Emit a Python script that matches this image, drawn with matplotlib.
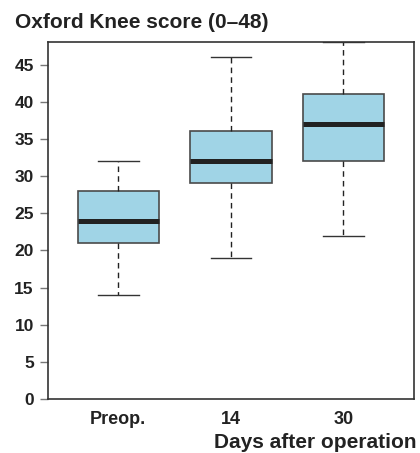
import matplotlib.pyplot as plt

plt.rcParams['font.family'] = ['Liberation Sans', 'DejaVu Sans']

groups = ['Preop.', '14', '30']
medians = [24, 32, 37]
q1 = [21, 29, 32]
q3 = [28, 36, 41]
whisker_low = [14, 19, 22]
whisker_high = [32, 46, 48]

stats = []
for i in range(len(groups)):
    stats.append(dict(med=medians[i], q1=q1[i], q3=q3[i],
                      whislo=whisker_low[i], whishi=whisker_high[i],
                      fliers=[], label=groups[i]))

fig = plt.figure(figsize=(4.2, 4.53), dpi=100)
ax = fig.add_axes([47.7/420, 1 - 399/453, 366.3/420, 356.7/453])

ax.bxp(stats, positions=[1, 2, 3], widths=0.725, patch_artist=True,
       boxprops=dict(facecolor='#a0d4e6', edgecolor='#4a4a4a', linewidth=1.2),
       medianprops=dict(color='#222222', linewidth=3.6, solid_capstyle='butt'),
       whiskerprops=dict(color='#222222', linewidth=1.0, linestyle=(0, (4, 3))),
       capprops=dict(color='#333333', linewidth=1.0),
       capwidths=0.36)

ax.set_xlim(0.372, 3.628)
ax.set_ylim(0, 48)
ax.set_yticks(range(0, 50, 5))
for s in ax.spines.values():
    s.set_color('#333333')
    s.set_linewidth(1.2)
ax.tick_params(axis='y', length=6, width=1, color='#777777', labelsize=12.5,
               labelcolor='#222222', pad=4)
ax.tick_params(axis='x', length=0, labelsize=13, labelcolor='#222222', pad=9)
for lab in ax.get_xticklabels() + ax.get_yticklabels():
    lab.set_fontweight('bold')

fig.text(15/420, 1 - 22/453, 'Oxford Knee score (0\u201348)', fontsize=15,
         fontweight='bold', color='#222222', va='center', ha='left')
fig.text(416/420, 1 - 443/453, 'Days after operation', fontsize=15,
         fontweight='bold', color='#222222', va='center', ha='right')

fig.savefig('out.png', dpi=100)
